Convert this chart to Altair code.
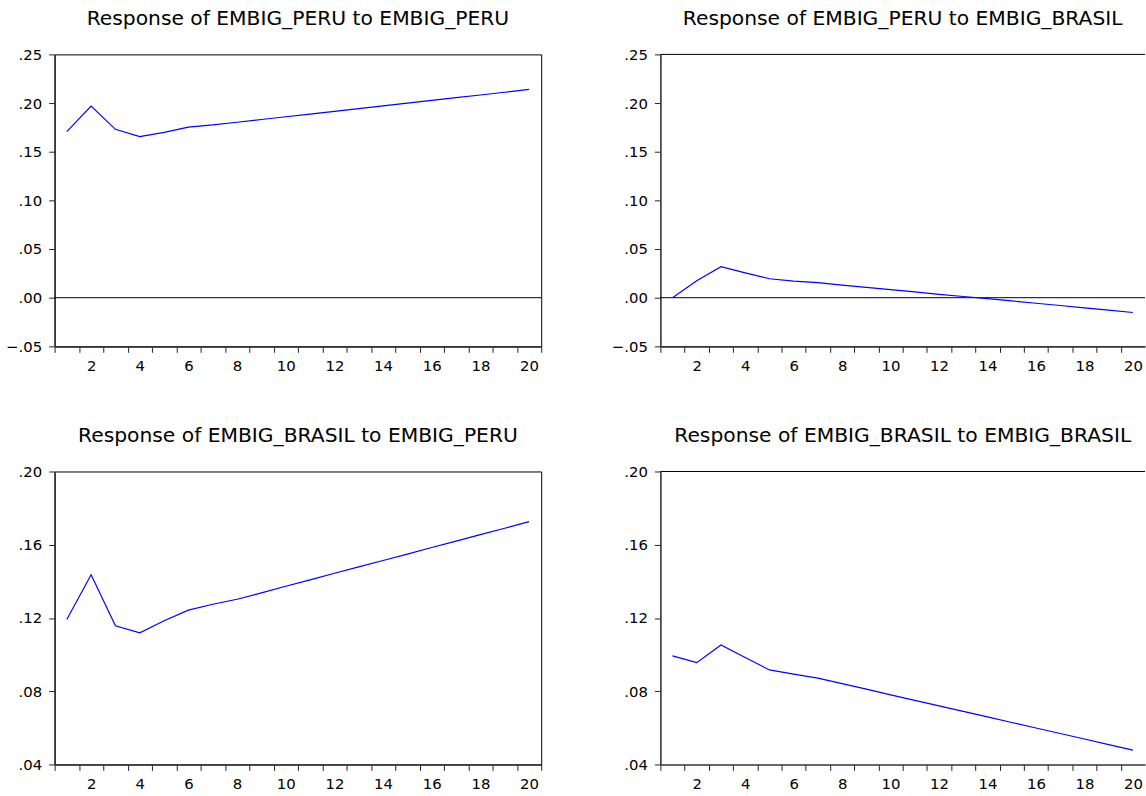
import altair as alt
import pandas as pd

periods = list(range(1, 21))

peru_to_peru = [0.1706, 0.1970, 0.1730, 0.1655, 0.1699, 0.1753, 0.1775, 0.1803, 0.1831,
                0.1859, 0.1887, 0.1915, 0.1943, 0.1971, 0.1999, 0.2027, 0.2055, 0.2083,
                0.2111, 0.2140]
peru_to_brasil = [0.0000, 0.0175, 0.0318, 0.0255, 0.0195, 0.0170, 0.0154, 0.0130, 0.0106,
                  0.0083, 0.0059, 0.0035, 0.0012, -0.0010, -0.0033, -0.0057, -0.0080,
                  -0.0104, -0.0127, -0.0152]
brasil_to_peru = [0.1192, 0.1436, 0.1157, 0.1119, 0.1185, 0.1243, 0.1275, 0.1302, 0.1337,
                  0.1373, 0.1408, 0.1444, 0.1479, 0.1514, 0.1549, 0.1585, 0.1620, 0.1655,
                  0.1690, 0.1726]
brasil_to_brasil = [0.0993, 0.0956, 0.1052, 0.0984, 0.0916, 0.0893, 0.0871, 0.0841, 0.0811,
                    0.0780, 0.0750, 0.0720, 0.0690, 0.0660, 0.0629, 0.0599, 0.0569, 0.0539,
                    0.0508, 0.0478]

titles = [
    "Response of EMBIG_PERU to EMBIG_PERU",
    "Response of EMBIG_PERU to EMBIG_BRASIL",
    "Response of EMBIG_BRASIL to EMBIG_PERU",
    "Response of EMBIG_BRASIL to EMBIG_BRASIL",
]

top_y_ticks = [-0.05, 0.0, 0.05, 0.10, 0.15, 0.20, 0.25]
bottom_y_ticks = [0.04, 0.08, 0.12, 0.16, 0.20]

FONT = "DejaVu Sans"


def panel(values, title, yticks, zero_line, width, height, left_col):
    df = pd.DataFrame({"period": periods, "value": values})
    ydom = [yticks[0], yticks[-1]]
    xticks = [v / 2 for v in range(1, 42)]
    if not left_col:
        xticks = xticks[:-1]
    xscale = alt.Scale(domain=[0.5, 20.5], nice=False, zero=False)
    yscale = alt.Scale(domain=ydom, nice=False, zero=False)
    xaxis = alt.Axis(
        values=xticks,
        title=None,
        labelExpr="datum.value % 2 == 0 ? format(datum.value, 'd') : ''",
        tickOpacity={"condition": {"test": "datum.value % 1 != 0", "value": 1}, "value": 0},
        labelOverlap=False,
        labelFlush=False,
        labelBound=False,
        labelPadding=6,
    )
    yaxis = alt.Axis(
        values=yticks,
        title=None,
        labelExpr="replace(format(datum.value, '.2f'), '0.', '.')",
        labelOverlap=False,
        labelFlush=False,
        minExtent=45,
        maxExtent=45,
    )
    line = alt.Chart(df).mark_line(color="#0000FF", strokeWidth=1.2).encode(
        x=alt.X("period:Q", scale=xscale, axis=xaxis),
        y=alt.Y("value:Q", scale=yscale, axis=yaxis),
    )
    layers = []
    if zero_line:
        zdf = pd.DataFrame({"z": [0.0]})
        layers.append(
            alt.Chart(zdf).mark_rule(color="black", strokeWidth=1).encode(
                y=alt.Y("z:Q", scale=yscale, axis=yaxis)
            )
        )
    layers.append(line)
    if not left_col:
        bdf = pd.DataFrame({"b": [0]})
        layers.append(
            alt.Chart(bdf).mark_rule(color="black", strokeWidth=1).encode(
                x=alt.value(0), x2=alt.value(width), y=alt.value(0)
            )
        )
    props = dict(
        width=width,
        height=height,
        title=alt.TitleParams(
            text=title,
            font=FONT,
            fontSize=20.4,
            fontWeight="normal",
            color="black",
            anchor="middle",
            frame="group",
            baseline="alphabetic",
            offset=2,
        ),
    )
    if not left_col:
        props["view"] = alt.ViewBackground(strokeOpacity=0)
    return alt.layer(*layers).properties(**props)


p1 = panel(peru_to_peru, titles[0], top_y_ticks, True, 490, 294, True)
p2 = panel(peru_to_brasil, titles[1], top_y_ticks, True, 488, 294, False)
p3 = panel(brasil_to_peru, titles[2], bottom_y_ticks, False, 490, 295, True)
p4 = panel(brasil_to_brasil, titles[3], bottom_y_ticks, False, 488, 295, False)

chart = alt.concat(p1, p2, p3, p4, columns=2, spacing={"row": 52, "column": 69}).properties(
    padding={"left": 5, "top": 6, "right": 0, "bottom": 0},
    background="white",
).configure_view(
    stroke="black", strokeWidth=1
).configure_axis(
    labelFont=FONT,
    labelFontSize=15,
    labelColor="black",
    tickColor="#222222",
    tickSize=6,
    tickWidth=1,
    domainColor="#333333",
    domainWidth=1.6,
    grid=False,
    labelPadding=7,
)

chart.save("out.html", embed_options={"renderer": "svg", "actions": False})
